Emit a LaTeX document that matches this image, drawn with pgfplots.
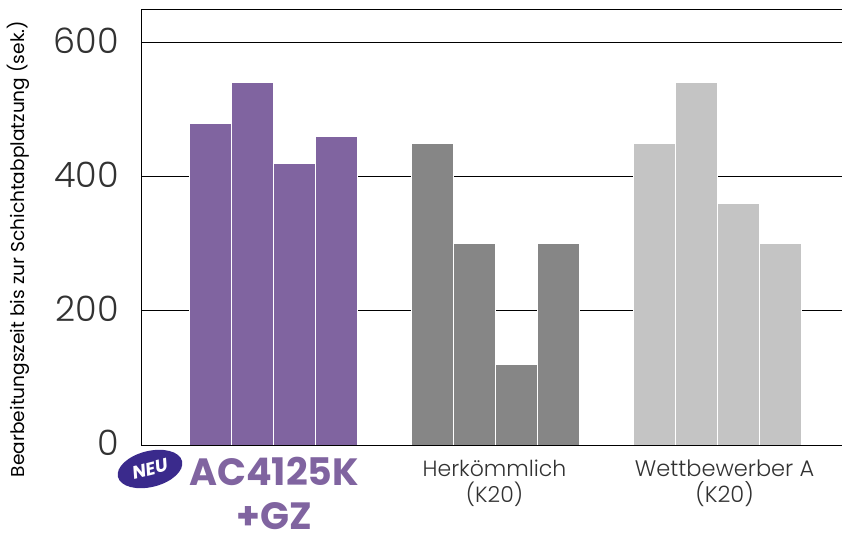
\documentclass[border=0pt]{standalone}
\usepackage{fontspec}
\setmainfont{Poppins}
\newfontfamily\leicht{Poppins Light}
\usepackage{pgfplots}
\pgfplotsset{compat=1.18}
\definecolor{lila}{RGB}{128,100,160}
\definecolor{dunkel}{RGB}{134,134,134}
\definecolor{hell}{RGB}{196,196,196}
\definecolor{neu}{RGB}{58,42,140}
\definecolor{schrift}{RGB}{50,50,50}
\begin{document}
\begin{tikzpicture}[x=1pt,y=1pt]
    \useasboundingbox (-141.5,-88) rectangle (700.5,445);
    \begin{axis}[
        at={(0,0)},anchor=south west,
        scale only axis,
        width=700.5pt,
        height=436pt,
        xmin=141.5,xmax=842,
        ymin=0,ymax=650,
        ytick={0,200,400,600},
        xtick={274,496,718},
        xticklabels={},
        major tick length=0pt,
        ymajorgrids,
        grid style={black,line width=0.9pt},
        axis line style={black,line width=1pt},
        /pgf/number format/assume math mode=true,
        yticklabel style={font=\leicht\fontsize{35}{35}\selectfont,text=schrift,anchor=east,xshift=-19pt,yshift=2pt},
        clip=false,
    ]
    \addplot[ybar,bar width=42,fill=lila,draw=white,line width=1pt] coordinates {
        (210.5,480) (252.5,540) (294.5,420) (336.5,460)
    };
    \addplot[ybar,bar width=42,fill=dunkel,draw=white,line width=1pt] coordinates {
        (432.5,450) (474.5,300) (516.5,120) (558.5,300)
    };
    \addplot[ybar,bar width=42,fill=hell,draw=white,line width=1pt] coordinates {
        (654.5,450) (696.5,540) (738.5,360) (780.5,300)
    };
    \end{axis}
    \draw[black,line width=1pt] (0,0) -- (700.5,0);
    % Achsentitel
    \node[rotate=90,text=black,font=\fontsize{18.6}{18.6}\selectfont] at (-123.5,196) {Bearbeitungszeit bis zur Schichtabplatzung (sek.)};
    % Kategorien
    \node[align=center,text=lila,font=\fontsize{38}{44}\selectfont\bfseries,anchor=north] at (132.5,-9) {AC4125K\\+GZ};
    \node[align=center,text=schrift,font=\leicht\fontsize{22}{26}\selectfont,anchor=north] at (353,-11) {Herkömmlich\\(K20)};
    \node[align=center,text=schrift,font=\leicht\fontsize{22.5}{26}\selectfont,anchor=north] at (583,-11) {Wettbewerber A\\(K20)};
    % NEU-Plakette
    \fill[neu,rotate around={14:(8.5,-24)}] (8.5,-24) ellipse (33 and 18);
    \node[text=white,rotate=14,font=\fontsize{18}{18}\selectfont\bfseries\itshape] at (8.5,-24) {NEU};
\end{tikzpicture}
\end{document}
